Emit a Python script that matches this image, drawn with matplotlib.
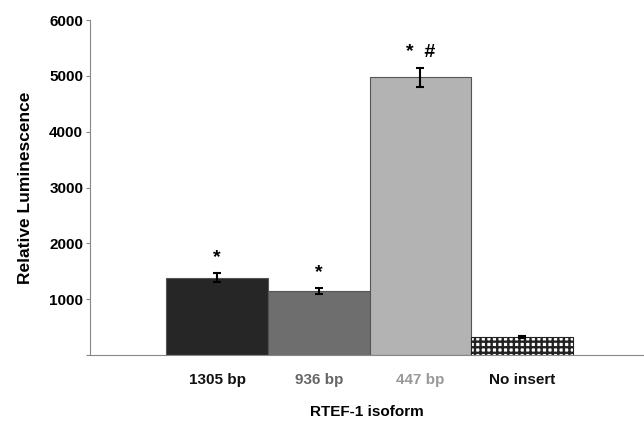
import numpy as np
import matplotlib.pyplot as plt

plt.rcParams['font.family'] = ['Liberation Sans', 'DejaVu Sans']
plt.rcParams['font.weight'] = 'bold'
plt.rcParams['hatch.linewidth'] = 1.7

# data
isoforms = ['1305 bp', '936 bp', '447 bp', 'No insert']
luminescence = [1380, 1150, 4975, 320]
errors = [80, 50, 170, 15]
markers = ['*', '*', '*  #', '']
label_colors = ['#111111', '#666666', '#999999', '#111111']
bar_colors = ['#262626', '#6e6e6e', '#b3b3b3', 'white']

fig = plt.figure(figsize=(6.44, 4.21), dpi=100)
ax = fig.add_axes([0.14, 0.157, 0.86, 0.795])

x = np.arange(len(isoforms))
bars = ax.bar(x, luminescence, width=1.0, color=bar_colors, edgecolor='#555555', linewidth=0.8)
bars[3].set_hatch('+++')
bars[3].set_edgecolor('#222222')
ax.errorbar(x, luminescence, yerr=errors, fmt='none', ecolor='black', elinewidth=1.5, capsize=3, capthick=1.5)

for xi, yi, ei, m in zip(x, luminescence, errors, markers):
    if m:
        ax.text(xi, yi + ei + 130, m, ha='center', va='bottom', fontsize=14, fontweight='bold')

ax.set_xlim(-1.25, 4.2)
ax.set_ylim(0, 6000)
ax.set_yticks([0, 1000, 2000, 3000, 4000, 5000, 6000])
ax.set_yticklabels(['', '1000', '2000', '3000', '4000', '5000', '6000'], fontsize=11, fontweight='bold')
ax.set_xticks(x)
ax.set_xticklabels(isoforms, fontsize=11, fontweight='bold')
for lbl, c in zip(ax.get_xticklabels(), label_colors):
    lbl.set_color(c)
ax.tick_params(axis='x', length=0, pad=13)
ax.tick_params(axis='y', length=3, color='#888888', pad=2)

for s in ['top', 'right']:
    ax.spines[s].set_visible(False)
ax.spines['left'].set_color('#888888')
ax.spines['bottom'].set_color('#888888')

ax.set_ylabel('Relative Luminescence', fontsize=12.5, fontweight='bold', labelpad=12)
ax.set_xlabel('RTEF-1 isoform', fontsize=11, fontweight='bold', labelpad=13)

fig.savefig('out.png', dpi=100)
